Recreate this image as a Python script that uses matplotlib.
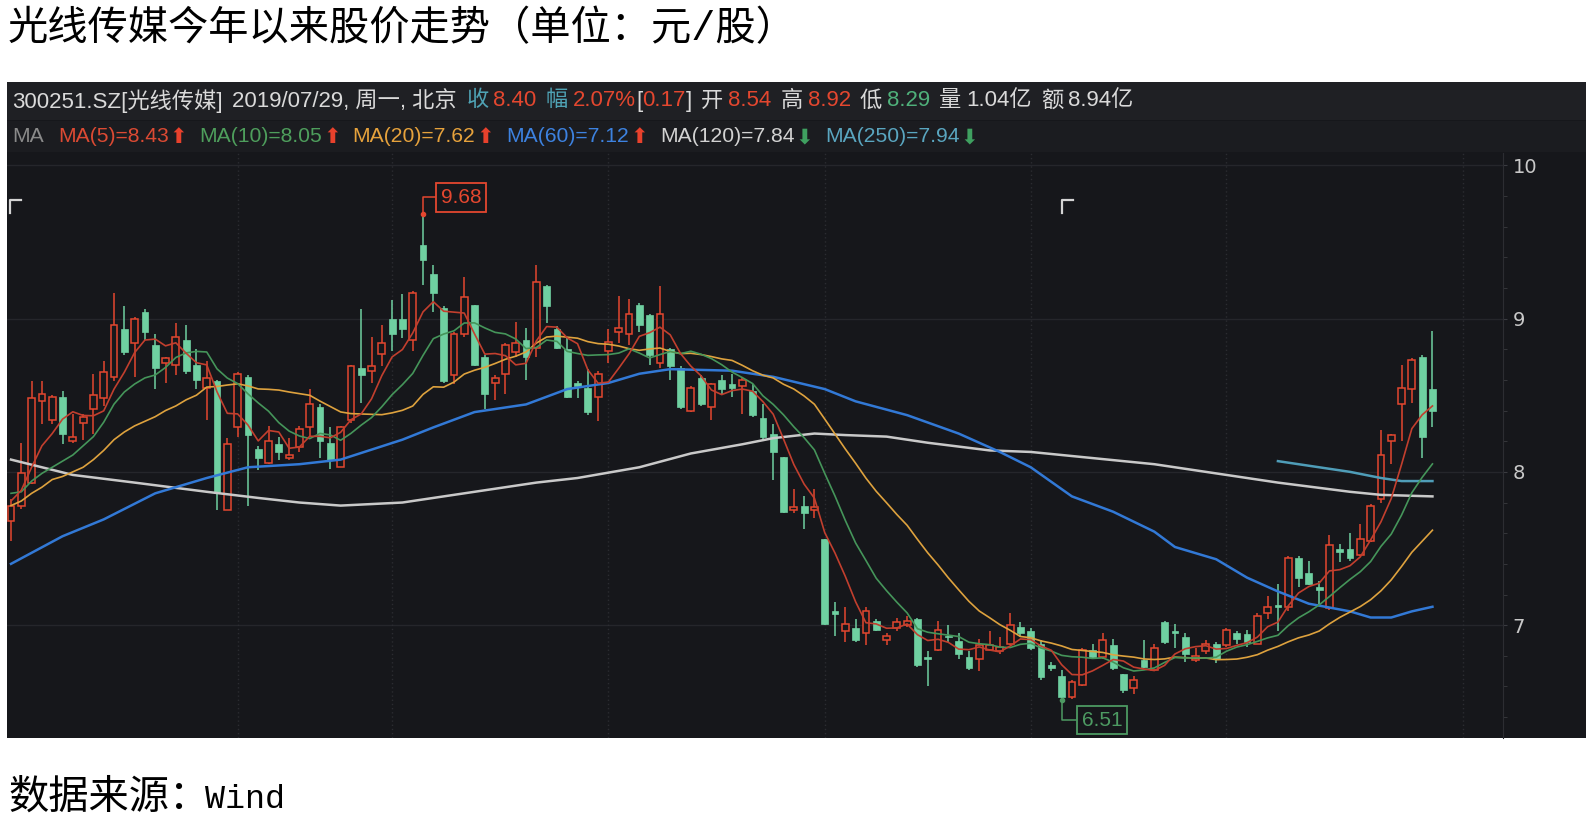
import matplotlib
matplotlib.use("Agg")
import matplotlib.pyplot as plt
import numpy as np
import pandas as pd
from matplotlib.lines import Line2D
from matplotlib.patches import Rectangle
from matplotlib.ticker import MultipleLocator

# daily bars 300251.SZ, 2019/01/02 .. 2019/07/29 (index = trading day)
opens = [7.68, 7.78, 7.93, 8.46, 8.34, 8.49, 8.20, 8.32, 8.41, 8.48,
         8.62, 8.93, 8.84, 9.04, 8.83, 8.71, 8.70, 8.86, 8.70, 8.55,
         8.59, 7.75, 8.29, 8.62, 8.15, 8.06, 8.18, 8.09, 8.16, 8.29,
         8.42, 8.19, 8.03, 8.34, 8.68, 8.66, 8.77, 9.00, 9.00, 8.86,
         9.48, 9.29, 9.07, 8.63, 8.90, 9.09, 8.75, 8.58, 8.64, 8.78,
         8.86, 8.81, 9.21, 8.93, 8.80, 8.58, 8.55, 8.49, 8.79, 8.91,
         8.90, 9.09, 9.02, 8.71, 8.80, 8.68, 8.40, 8.61, 8.42, 8.60,
         8.57, 8.56, 8.53, 8.35, 8.25, 8.10, 7.75, 7.78, 7.75, 7.56,
         7.09, 6.96, 6.98, 6.95, 7.03, 6.90, 6.98, 7.00, 7.04, 6.79,
         6.84, 6.93, 6.90, 6.79, 6.78, 6.84, 6.83, 6.88, 6.99, 6.96,
         6.88, 6.74, 6.67, 6.53, 6.61, 6.84, 6.79, 6.87, 6.68, 6.59,
         6.77, 6.71, 7.02, 6.96, 6.92, 6.77, 6.83, 6.88, 6.87, 6.95,
         6.94, 6.88, 7.08, 7.13, 7.12, 7.44, 7.34, 7.25, 7.11, 7.50,
         7.50, 7.46, 7.55, 7.82, 8.20, 8.44, 8.54, 8.75, 8.54]
highs = [7.82, 8.19, 8.59, 8.59, 8.50, 8.53, 8.38, 8.38, 8.64, 8.72,
         9.17, 9.08, 9.01, 9.06, 8.90, 8.75, 8.97, 8.96, 8.80, 8.72,
         8.60, 8.22, 8.65, 8.63, 8.17, 8.30, 8.23, 8.22, 8.30, 8.54,
         8.44, 8.29, 8.30, 8.70, 9.06, 8.88, 8.96, 9.12, 9.16, 9.18,
         9.68, 9.35, 9.08, 8.91, 9.27, 9.09, 8.76, 8.63, 8.84, 8.98,
         8.94, 9.35, 9.22, 8.95, 8.87, 8.59, 8.67, 8.66, 8.93, 9.15,
         9.13, 9.10, 9.03, 9.21, 8.81, 8.69, 8.56, 8.63, 8.58, 8.63,
         8.64, 8.61, 8.57, 8.44, 8.31, 8.10, 7.89, 7.84, 7.89, 7.56,
         7.15, 7.12, 7.04, 7.12, 7.04, 6.95, 7.05, 7.06, 7.05, 6.83,
         7.03, 7.00, 6.95, 6.83, 6.91, 6.96, 6.92, 7.08, 7.02, 6.98,
         6.90, 6.76, 6.71, 6.64, 6.85, 6.88, 6.95, 6.91, 6.68, 6.67,
         6.90, 6.88, 7.03, 7.01, 6.95, 6.85, 6.90, 6.89, 6.98, 6.96,
         6.97, 7.08, 7.19, 7.27, 7.45, 7.45, 7.42, 7.29, 7.59, 7.53,
         7.60, 7.66, 7.79, 8.27, 8.25, 8.70, 8.74, 8.76, 8.92]
lows = [7.55, 7.76, 7.92, 8.31, 8.31, 8.18, 8.19, 8.21, 8.25, 8.43,
        8.59, 8.76, 8.62, 8.86, 8.54, 8.58, 8.63, 8.64, 8.54, 8.34,
        7.75, 7.75, 8.23, 7.78, 8.01, 8.05, 8.08, 8.08, 8.13, 8.23,
        8.09, 8.02, 8.03, 8.32, 8.45, 8.58, 8.69, 8.79, 8.87, 8.79,
        9.22, 9.04, 8.58, 8.57, 8.88, 8.69, 8.41, 8.47, 8.51, 8.75,
        8.60, 8.75, 8.97, 8.80, 8.48, 8.48, 8.37, 8.33, 8.71, 8.84,
        8.83, 8.91, 8.70, 8.68, 8.60, 8.41, 8.39, 8.43, 8.34, 8.51,
        8.49, 8.38, 8.36, 8.21, 7.95, 7.73, 7.73, 7.63, 7.70, 7.00,
        6.93, 6.89, 6.89, 6.87, 6.96, 6.87, 6.96, 6.99, 6.73, 6.60,
        6.83, 6.89, 6.78, 6.71, 6.70, 6.83, 6.81, 6.87, 6.92, 6.84,
        6.64, 6.70, 6.51, 6.52, 6.60, 6.78, 6.78, 6.71, 6.56, 6.55,
        6.72, 6.70, 6.88, 6.85, 6.76, 6.76, 6.81, 6.75, 6.86, 6.88,
        6.86, 6.88, 7.04, 6.96, 7.09, 7.25, 7.26, 7.14, 7.10, 7.41,
        7.42, 7.45, 7.54, 7.80, 8.05, 8.20, 8.45, 8.09, 8.29]
closes = [7.78, 7.99, 8.48, 8.51, 8.49, 8.25, 8.23, 8.36, 8.50, 8.65,
          8.96, 8.78, 9.00, 8.91, 8.68, 8.74, 8.88, 8.66, 8.60, 8.61,
          7.86, 8.18, 8.64, 8.24, 8.09, 8.20, 8.13, 8.11, 8.28, 8.44,
          8.20, 8.08, 8.29, 8.69, 8.63, 8.69, 8.84, 8.90, 8.93, 9.17,
          9.38, 9.17, 8.59, 8.90, 9.14, 8.70, 8.51, 8.61, 8.83, 8.84,
          8.75, 9.24, 9.08, 8.81, 8.49, 8.56, 8.39, 8.64, 8.85, 8.94,
          9.03, 8.96, 8.76, 9.03, 8.69, 8.42, 8.55, 8.44, 8.57, 8.54,
          8.55, 8.60, 8.37, 8.23, 8.13, 7.74, 7.77, 7.73, 7.77, 7.01,
          7.07, 7.01, 6.90, 7.09, 6.97, 6.93, 7.02, 7.03, 6.74, 6.78,
          6.97, 6.92, 6.81, 6.72, 6.87, 6.87, 6.86, 7.00, 6.95, 6.85,
          6.66, 6.72, 6.53, 6.63, 6.84, 6.79, 6.90, 6.72, 6.58, 6.64,
          6.73, 6.85, 6.89, 6.95, 6.81, 6.80, 6.88, 6.78, 6.97, 6.91,
          6.89, 7.06, 7.12, 7.12, 7.44, 7.31, 7.27, 7.23, 7.52, 7.48,
          7.44, 7.56, 7.78, 8.11, 8.24, 8.55, 8.73, 8.23, 8.40]

# start of the short MAs (need 2018 bars)
ma5_head = [7.81, 7.88, 8.03, 8.17]
ma10_head = [7.86, 7.87, 7.94, 7.99, 8.03, 8.07, 8.11, 8.17, 8.23]
ma20_head = [7.78, 7.81, 7.86, 7.90, 7.95, 7.97, 8.00, 8.03, 8.08, 8.14,
             8.21, 8.26, 8.30, 8.33, 8.36, 8.40, 8.43, 8.47, 8.50]

# long MAs at some bars
ma60_idx = [0, 5, 9, 14, 19, 23, 28, 32, 38, 41, 45, 50, 54, 58, 61, 64, 70, 74, 79,
            82, 87, 92, 96, 99, 103, 107, 111, 113, 117, 120, 123, 126, 130, 132, 134, 136, 138]
ma60_val = [7.40, 7.58, 7.69, 7.86, 7.96, 8.03, 8.05, 8.08, 8.21, 8.29, 8.39, 8.44, 8.54,
            8.58, 8.64, 8.67, 8.66, 8.62, 8.54, 8.46, 8.37, 8.25, 8.13, 8.03, 7.84, 7.74,
            7.61, 7.51, 7.43, 7.31, 7.22, 7.14, 7.09, 7.05, 7.05, 7.09, 7.12]
ma120_idx = [0, 6, 12, 19, 24, 28, 32, 38, 43, 48, 51, 55, 61, 66, 71, 74, 78, 81, 85,
             89, 95, 99, 105, 111, 117, 123, 130, 133, 138]
ma120_val = [8.08, 7.98, 7.93, 7.87, 7.83, 7.80, 7.78, 7.80, 7.85, 7.90, 7.93, 7.96, 8.03,
             8.12, 8.18, 8.22, 8.25, 8.24, 8.23, 8.19, 8.14, 8.13, 8.09, 8.05, 7.99, 7.93,
             7.87, 7.85, 7.84]
ma250_idx = [123, 126, 130, 133, 135, 138]
ma250_val = [8.07, 8.04, 8.00, 7.96, 7.94, 7.94]

month_starts = [22, 37, 58, 79, 99, 118, 141]
price_ticks = [7, 8, 9, 10]
hi_idx, hi_val = 40, 9.68
lo_idx, lo_val = 102, 6.51

W, H = 1594, 822
BG = '#16171b'
RED = '#e4472f'
MINT = '#6fd0a1'
LOW_GREEN = '#4d9a62'
C_MA5 = '#c23f2e'
C_MA10 = '#45955a'
C_MA20 = '#dea23e'
C_MA60 = '#3279d6'
C_MA120 = '#c9c9c9'
C_MA250 = '#4f9db8'
HEAD_FONT = ['Liberation Sans', 'Noto Sans CJK SC']
CAP_FONT = ['Liberation Mono', 'Noto Sans CJK SC']
ARROWS = ('⬆', '⬇')


def fx(x):
    return x / W


def fy(y):
    return 1 - y / H


def draw_runs(fig, runs, x0, yc, size):
    r = fig.canvas.get_renderer()
    x = x0
    for text, color, gap in runs:
        fam = ['DejaVu Sans'] if text in ARROWS else HEAD_FONT
        t = fig.text(fx(x), fy(yc), text, color=color, fontsize=size, family=fam,
                     va='center', ha='left')
        x += t.get_window_extent(renderer=r).width + gap


o = np.array(opens)
h = np.array(highs)
l = np.array(lows)
c = np.array(closes)
idx = np.arange(len(c))

s = pd.Series(c)
ma5 = s.rolling(5).mean().values
ma5[:len(ma5_head)] = ma5_head
ma10 = s.rolling(10).mean().values
ma10[:len(ma10_head)] = ma10_head
ma20 = s.rolling(20).mean().values
ma20[:len(ma20_head)] = ma20_head

fig = plt.figure(figsize=(W / 100, H / 100), dpi=100)
fig.patch.set_facecolor('white')

# dark panel + two header rows
fig.add_artist(Rectangle((fx(7), fy(738)), fx(1586) - fx(7), fy(82) - fy(738),
                         transform=fig.transFigure, fc=BG, ec='none', zorder=-2))
fig.add_artist(Rectangle((fx(7), fy(120)), fx(1586) - fx(7), fy(82) - fy(120),
                         transform=fig.transFigure, fc='#1f2024', ec='none', zorder=-1))
fig.add_artist(Rectangle((fx(7), fy(152)), fx(1586) - fx(7), fy(121) - fy(152),
                         transform=fig.transFigure, fc='#1b1c20', ec='none', zorder=-1))

ax = fig.add_axes([fx(7), fy(738), fx(1503) - fx(7), fy(153) - fy(738)])
ax.set_facecolor(BG)
ax.set_xlim(-0.39, 144.85)
ax.set_ylim(6.264, 10.08)
for side in ['left', 'top', 'bottom']:
    ax.spines[side].set_visible(False)
ax.spines['right'].set_color('#2c2d32')
ax.set_xticks([])
ax.yaxis.tick_right()
ax.set_yticks(price_ticks)
ax.yaxis.set_minor_locator(MultipleLocator(0.2))
ax.tick_params(axis='y', which='both', direction='out', length=3, color='#3a3b40',
               labelcolor='#c9c9c9', labelsize=14, pad=4)
ax.grid(axis='y', which='major', color='#25262b', lw=1.0)
ax.vlines(month_starts, 6.264, 10.08, colors='#2b2c31', linestyles=(0, (1, 2)), lw=1)

up = c > o
ax.vlines(idx, l, h, colors=np.where(up, RED, MINT), lw=1.1, zorder=2)
body = np.maximum(np.abs(c - o), 0.012)
bottom = np.minimum(o, c)
ax.bar(idx[up], body[up], bottom=bottom[up], width=0.66, facecolor=BG,
       edgecolor=RED, linewidth=1.1, zorder=3)
ax.bar(idx[~up], body[~up], bottom=bottom[~up], width=0.66, facecolor=MINT,
       edgecolor=MINT, linewidth=0.5, zorder=3)

ax.plot(ma120_idx, ma120_val, color=C_MA120, lw=1.8, zorder=4)
ax.plot(ma250_idx, ma250_val, color=C_MA250, lw=1.8, zorder=4)
ax.plot(ma60_idx, ma60_val, color=C_MA60, lw=1.8, zorder=4)
ax.plot(idx, ma20, color=C_MA20, lw=1.2, zorder=5)
ax.plot(idx, ma10, color=C_MA10, lw=1.2, zorder=5)
ax.plot(idx, ma5, color=C_MA5, lw=1.2, zorder=5)

# max / min markers
ax.plot([hi_idx, hi_idx, hi_idx + 1.2], [hi_val, hi_val + 0.11, hi_val + 0.11],
        color=RED, lw=1.1, zorder=6)
ax.plot(hi_idx, hi_val, 'o', color=RED, ms=3, zorder=6)
ax.text(hi_idx + 1.75, hi_val + 0.11, f'{hi_val:.2f}', color=RED, fontsize=15,
        family='Liberation Sans', va='center', ha='left', zorder=7,
        bbox=dict(boxstyle='square,pad=0.22', fc=BG, ec=RED, lw=1.3))
ax.plot([lo_idx, lo_idx, lo_idx + 1.4], [lo_val, lo_val - 0.13, lo_val - 0.13],
        color=LOW_GREEN, lw=1.1, zorder=6)
ax.plot(lo_idx, lo_val, 'o', color=LOW_GREEN, ms=3, zorder=6)
ax.text(lo_idx + 1.95, lo_val - 0.13, f'{lo_val:.2f}', color=LOW_GREEN, fontsize=15,
        family='Liberation Sans', va='center', ha='left', zorder=7,
        bbox=dict(boxstyle='square,pad=0.22', fc=BG, ec=LOW_GREEN, lw=1.3))

# corner brackets
for bx, by in [(10, 200), (1062, 200)]:
    fig.add_artist(Line2D([fx(bx), fx(bx), fx(bx + 11)], [fy(by + 13), fy(by), fy(by)],
                          color='#d4d4d4', lw=1.6))

WHITE = '#dadada'
TEAL = '#4fa3b5'
GREEN = '#4fb07a'
row1 = [('300251.SZ[光线传媒]', WHITE, 9), ('2019/07/29, 周一, 北京', WHITE, 10),
        ('收', TEAL, 5), ('8.40', RED, 9), ('幅', TEAL, 5), ('2.07%', RED, 0),
        ('[', WHITE, 0), ('0.17', RED, 0), (']', WHITE, 9), ('开', WHITE, 5),
        ('8.54', RED, 9), ('高', WHITE, 5), ('8.92', RED, 9), ('低', WHITE, 5),
        ('8.29', GREEN, 9), ('量', WHITE, 5), ('1.04亿', WHITE, 9), ('额', WHITE, 5),
        ('8.94亿', WHITE, 0)]
row2 = [('MA', '#8a8a8a', 14), ('MA(5)=8.43', '#dc4a33', 1), ('⬆', '#e8412c', 12),
        ('MA(10)=8.05', '#4e9e5c', 1), ('⬆', '#e8412c', 12),
        ('MA(20)=7.62', '#e6a23c', 1), ('⬆', '#e8412c', 12),
        ('MA(60)=7.12', '#3d82e0', 1), ('⬆', '#e8412c', 12),
        ('MA(120)=7.84', '#d2d2d2', 1), ('⬇', '#3fa060', 12),
        ('MA(250)=7.94', '#5aa6c0', 1), ('⬇', '#3fa060', 0)]
draw_runs(fig, row1, 12, 101, 16)
draw_runs(fig, row2, 12, 137, 15.2)

fig.text(fx(8), fy(29), '光线传媒今年以来股价走势（单位：元/股）', family=CAP_FONT,
         fontsize=29, va='center', ha='left', color='black')
src = fig.text(fx(8), fy(798), '数据来源：', family=CAP_FONT,
               fontsize=29, va='center', ha='left', color='black')
src_w = src.get_window_extent(renderer=fig.canvas.get_renderer()).width
fig.text(fx(8 + src_w - 4), fy(799), 'Wind', family='Liberation Mono',
         fontsize=24, va='center', ha='left', color='black')

fig.savefig('out.png', dpi=100, facecolor='white')
